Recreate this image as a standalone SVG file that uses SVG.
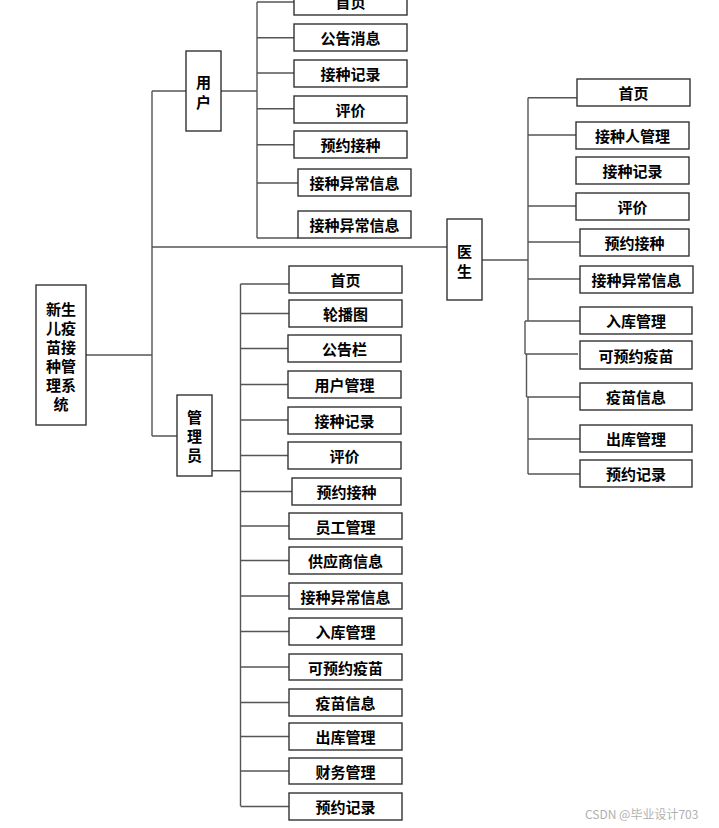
<svg xmlns="http://www.w3.org/2000/svg" width="719" height="828" viewBox="0 0 719 828">
<style>
.b{fill:#fff;stroke:#333;stroke-width:1.4}
.t{font-family:"Noto Sans CJK SC","Noto Sans",sans-serif;font-size:15px;font-weight:bold;fill:#000;text-anchor:middle;dominant-baseline:central}
.c{fill:none;stroke:#555;stroke-width:1.4}
.w{font-family:"Noto Sans CJK SC","Noto Sans",sans-serif;font-size:12px;fill:#b0b0b0}
</style>
<rect width="719" height="828" fill="#fff"/>
<g id="connectors" class="c">
<path d="M86,355H152M152,91V436M152,91H186M152,436H177M152,247H447"/>
<path d="M221,91H257M257,2V238M257,2H294M257,37.7H294M257,73H294M257,108.7H294M257,144.7H294M257,183H298M257,238H298"/>
<path d="M482,260H528M528,97.7V321M528,97.7H577M528,135H576M528,206H576M528,242H580M528,279H580M525,321H580M525,321V354M525,354H578M526.5,354V397M526.5,397H580M528,397V474M528,439H580M528,474H580"/>
<path d="M212,470.7H240.5M240.5,284V806M240.5,284H289M240.5,313.5H289M240.5,348.5H288M240.5,384.5H288M240.5,420H288M240.5,455.5H288M240.5,491.5H292M240.5,526H289M240.5,560.5H289M240.5,596H289M240.5,631.5H289M240.5,667H289M240.5,702.5H289M240.5,736.5H289M240.5,771H289M240.5,806.5H289"/>
</g>
<g id="root"><rect class="b" x="36" y="285" width="50" height="140"/>
<text class="t" x="61" y="308">新生</text><text class="t" x="61" y="327">儿疫</text><text class="t" x="61" y="346">苗接</text><text class="t" x="61" y="365">种管</text><text class="t" x="61" y="384">理系</text><text class="t" x="61" y="403">统</text></g>
<g id="user"><rect class="b" x="186" y="51" width="35" height="80"/><text class="t" x="203.5" y="81">用</text><text class="t" x="203.5" y="101">户</text></g>
<g id="doctor"><rect class="b" x="447" y="219" width="35" height="81"/><text class="t" x="464.5" y="250">医</text><text class="t" x="464.5" y="270">生</text></g>
<g id="admin"><rect class="b" x="177" y="395" width="35" height="81"/><text class="t" x="194.5" y="416">管</text><text class="t" x="194.5" y="435">理</text><text class="t" x="194.5" y="454">员</text></g>
<g id="u1"><rect class="b" x="294" y="-12" width="113" height="27"/><text class="t" x="350.5" y="1.5">首页</text></g>
<g id="u2"><rect class="b" x="294" y="24" width="113" height="27"/><text class="t" x="350.5" y="37.5">公告消息</text></g>
<g id="u3"><rect class="b" x="294" y="60" width="113" height="27"/><text class="t" x="350.5" y="73.5">接种记录</text></g>
<g id="u4"><rect class="b" x="294" y="96" width="113" height="27"/><text class="t" x="350.5" y="109.5">评价</text></g>
<g id="u5"><rect class="b" x="294" y="131" width="113" height="27"/><text class="t" x="350.5" y="144.5">预约接种</text></g>
<g id="u6"><rect class="b" x="298" y="169" width="113" height="27"/><text class="t" x="354.5" y="182.5">接种异常信息</text></g>
<g id="u7"><rect class="b" x="298" y="211" width="113" height="27"/><text class="t" x="354.5" y="224.5">接种异常信息</text></g>
<g id="d1"><rect class="b" x="577" y="79" width="113" height="27"/><text class="t" x="633.5" y="92.5">首页</text></g>
<g id="d2"><rect class="b" x="576" y="122" width="113" height="27"/><text class="t" x="632.5" y="135.5">接种人管理</text></g>
<g id="d3"><rect class="b" x="576" y="157" width="113" height="27"/><text class="t" x="632.5" y="170.5">接种记录</text></g>
<g id="d4"><rect class="b" x="576" y="193" width="113" height="27"/><text class="t" x="632.5" y="206.5">评价</text></g>
<g id="d5"><rect class="b" x="580" y="229" width="109" height="27"/><text class="t" x="634.5" y="242.5">预约接种</text></g>
<g id="d6"><rect class="b" x="580" y="266" width="113" height="27"/><text class="t" x="636.5" y="279.5">接种异常信息</text></g>
<g id="d7"><rect class="b" x="580" y="307" width="112" height="27"/><text class="t" x="636" y="320.5">入库管理</text></g>
<g id="d8"><rect class="b" x="580" y="341" width="112" height="28"/><text class="t" x="636" y="355">可预约疫苗</text></g>
<g id="d9"><rect class="b" x="580" y="383" width="112" height="27"/><text class="t" x="636" y="396.5">疫苗信息</text></g>
<g id="d10"><rect class="b" x="580" y="425" width="112" height="27"/><text class="t" x="636" y="438.5">出库管理</text></g>
<g id="d11"><rect class="b" x="580" y="460" width="112" height="27"/><text class="t" x="636" y="473.5">预约记录</text></g>
<g id="a1"><rect class="b" x="289" y="266" width="113" height="27"/><text class="t" x="345.5" y="279.5">首页</text></g>
<g id="a2"><rect class="b" x="289" y="300" width="113" height="27"/><text class="t" x="345.5" y="313.5">轮播图</text></g>
<g id="a3"><rect class="b" x="288" y="335" width="113" height="27"/><text class="t" x="344.5" y="348.5">公告栏</text></g>
<g id="a4"><rect class="b" x="288" y="371" width="113" height="27"/><text class="t" x="344.5" y="384.5">用户管理</text></g>
<g id="a5"><rect class="b" x="288" y="407" width="113" height="27"/><text class="t" x="344.5" y="420.5">接种记录</text></g>
<g id="a6"><rect class="b" x="288" y="442" width="113" height="27"/><text class="t" x="344.5" y="455.5">评价</text></g>
<g id="a7"><rect class="b" x="292" y="478" width="109" height="27"/><text class="t" x="346.5" y="491.5">预约接种</text></g>
<g id="a8"><rect class="b" x="289" y="513" width="113" height="26"/><text class="t" x="345.5" y="526">员工管理</text></g>
<g id="a9"><rect class="b" x="289" y="547" width="113" height="27"/><text class="t" x="345.5" y="560.5">供应商信息</text></g>
<g id="a10"><rect class="b" x="289" y="583" width="113" height="26"/><text class="t" x="345.5" y="596">接种异常信息</text></g>
<g id="a11"><rect class="b" x="289" y="618" width="113" height="27"/><text class="t" x="345.5" y="631.5">入库管理</text></g>
<g id="a12"><rect class="b" x="289" y="654" width="113" height="26"/><text class="t" x="345.5" y="667">可预约疫苗</text></g>
<g id="a13"><rect class="b" x="289" y="689" width="113" height="27"/><text class="t" x="345.5" y="702.5">疫苗信息</text></g>
<g id="a14"><rect class="b" x="289" y="723" width="113" height="27"/><text class="t" x="345.5" y="736.5">出库管理</text></g>
<g id="a15"><rect class="b" x="289" y="758" width="113" height="26"/><text class="t" x="345.5" y="771">财务管理</text></g>
<g id="a16"><rect class="b" x="289" y="793" width="113" height="27"/><text class="t" x="345.5" y="806.5">预约记录</text></g>
<text class="w" x="585" y="819">CSDN @毕业设计703</text>
</svg>
